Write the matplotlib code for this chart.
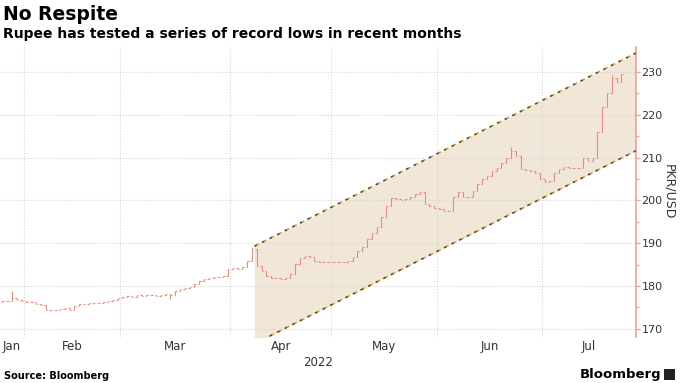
import matplotlib.pyplot as plt
import numpy as np
import pandas as pd

# daily PKR/USD closes, one per weekday from 2022-01-25
start_date = "2022-01-25"
closes = [
    # Jan
    176.4, 176.6, 177.2, 176.8, 176.6,
    # Feb
    176.3, 176.2, 175.9, 175.6, 174.5, 174.3, 174.5, 174.7, 174.9, 174.4,
    175.4, 175.8, 175.9, 176.0, 176.1, 176.1, 176.3, 176.5, 176.7, 177.2,
    # Mar
    177.4, 177.6, 177.5, 177.8, 177.7, 177.9, 177.8, 177.7, 177.9, 178.1,
    178.0, 178.8, 179.3, 179.6, 179.9, 180.5, 181.2, 181.6, 181.9, 182.1,
    182.2, 182.3, 183.9,
    # Apr
    184.2, 184.1, 184.4, 185.8, 188.6, 184.8, 183.5, 182.3, 181.9, 181.8,
    181.6, 181.9, 182.8, 185.2, 186.5, 187.0, 186.9, 185.8, 185.7, 185.6,
    185.6,
    # May
    185.6, 185.6, 185.6, 185.8, 186.9, 188.3, 189.2, 191.0, 192.5, 193.8,
    196.2, 198.7, 200.6, 200.4, 200.0, 200.3, 200.9, 201.5, 202.0, 199.2,
    198.8, 198.3,
    # Jun
    197.9, 197.6, 197.6, 200.8, 202.0, 200.9, 200.7, 202.3, 203.8, 205.0,
    205.8, 206.8, 207.6, 208.8, 209.8, 211.5, 210.3, 207.3, 207.0, 206.8,
    206.5, 205.0,
    # Jul
    204.3, 204.5, 206.3, 207.3, 207.7, 207.6, 207.5, 207.6, 209.8, 209.3,
    209.9, 216.0, 221.7, 225.2, 228.7, 227.6, 229.5,
]
first_open = 176.3
# intraday extremes that stick out past open/close
extra_highs = {2: 178.9, 52: 189.2, 106: 212.5, 127: 229.3}
extra_lows = {35: 176.9}

# trend channel (bar index where it starts, values at start and at right edge)
channel_start = 52.5
channel_end = 132.0
channel_upper = [189.3, 234.4]
channel_lower = [166.5, 211.6]

yticks = [170, 180, 190, 200, 210, 220, 230]

bar_color = "#e68b82"
axis_red = "#f0a09a"
shade = "#f1e7d9"
grid_color = "#d6d6d6"
text_color = "#333333"

dates = pd.bdate_range(start_date, periods=len(closes))
x = np.arange(len(closes))
closes = np.array(closes)
opens = np.concatenate([[first_open], closes[:-1]])
highs = np.maximum(opens, closes)
lows = np.minimum(opens, closes)
for i, v in extra_highs.items():
    highs[i] = max(highs[i], v)
for i, v in extra_lows.items():
    lows[i] = min(lows[i], v)

fig = plt.figure(figsize=(6.8, 3.83), dpi=100)
ax = fig.add_axes([0.0, 0.12, 0.935, 0.757])

xmin, xmax = -0.5, channel_end
ymin, ymax = 168.1, 235.8

# channel: dashes that are half dark, half orange
cx = np.array([channel_start, channel_end])
ax.fill_between(cx, channel_lower, channel_upper, color=shade, lw=0, zorder=0.5)
for ys in (channel_upper, channel_lower):
    ax.plot(cx, ys, color="#5a4a1e", lw=1.2, ls=(0, (1.8, 3.3)), zorder=3)
    ax.plot(cx, ys, color="#e39a3c", lw=1.2, ls=(3.3, (1.2, 3.9)), zorder=3)

# OHLC bars
tick_w = 0.3
ax.vlines(x, lows, highs, color=bar_color, lw=0.8, zorder=2)
ax.hlines(opens, x - tick_w, x, color=bar_color, lw=0.8, zorder=2)
ax.hlines(closes, x, x + tick_w, color=bar_color, lw=0.8, zorder=2)

ax.set_xlim(xmin, xmax)
ax.set_ylim(ymin, ymax)

# month boundaries and labels
month_id = dates.year * 12 + dates.month
starts = [i for i in range(1, len(dates)) if month_id[i] != month_id[i - 1]]
bounds = [i - 0.5 for i in starts]
edges = [xmin] + bounds + [xmax]
centers = [(a + b) / 2 for a, b in zip(edges[:-1], edges[1:])]
names = [dates[0].strftime("%b")] + [dates[i].strftime("%b") for i in starts]

for b in bounds:
    ax.axvline(b, color=grid_color, lw=0.8, ls=(0, (1, 1.5)), zorder=1)
for yv in yticks:
    ax.axhline(yv, color=grid_color, lw=0.8, ls=(0, (1, 1.5)), zorder=1)

ax.set_xticks(centers)
ax.set_xticklabels(names)
ax.tick_params(axis="x", length=0, pad=2, labelsize=8.5, labelcolor=text_color)
ax.text(0.5, -0.065, "2022", transform=ax.transAxes, ha="center", va="top", fontsize=8.5, color=text_color)

ax.yaxis.tick_right()
ax.set_yticks(yticks)
ax.set_yticks(np.arange(175, 231, 10), minor=True)
ax.tick_params(axis="y", which="major", direction="out", length=3, width=1, color=axis_red,
               labelsize=8, labelcolor=text_color, pad=1)
ax.tick_params(axis="y", which="minor", direction="out", length=2, width=1, color=axis_red)
ax.yaxis.set_label_position("right")
ax.set_ylabel("PKR/USD", rotation=270, fontsize=9, color=text_color, labelpad=9)

for side in ("top", "left", "bottom"):
    ax.spines[side].set_visible(False)
ax.spines["right"].set_color(axis_red)
ax.spines["right"].set_linewidth(1.2)

fig.text(0.004, 0.963, "No Respite", fontsize=13.5, fontweight="bold", va="center", ha="left")
fig.text(0.004, 0.91, "Rupee has tested a series of record lows in recent months", fontsize=10,
         fontweight="bold", va="center", ha="left")
fig.text(0.006, 0.018, "Source: Bloomberg", fontsize=7, fontweight="bold", va="center", ha="left")
fig.text(0.972, 0.022, "Bloomberg", fontsize=9.5, fontweight="bold", va="center", ha="right")
fig.patches.append(plt.Rectangle((0.977, 0.008), 0.016, 0.028, transform=fig.transFigure,
                                 facecolor="#222222", edgecolor="none"))

fig.savefig("out.png", dpi=100)
